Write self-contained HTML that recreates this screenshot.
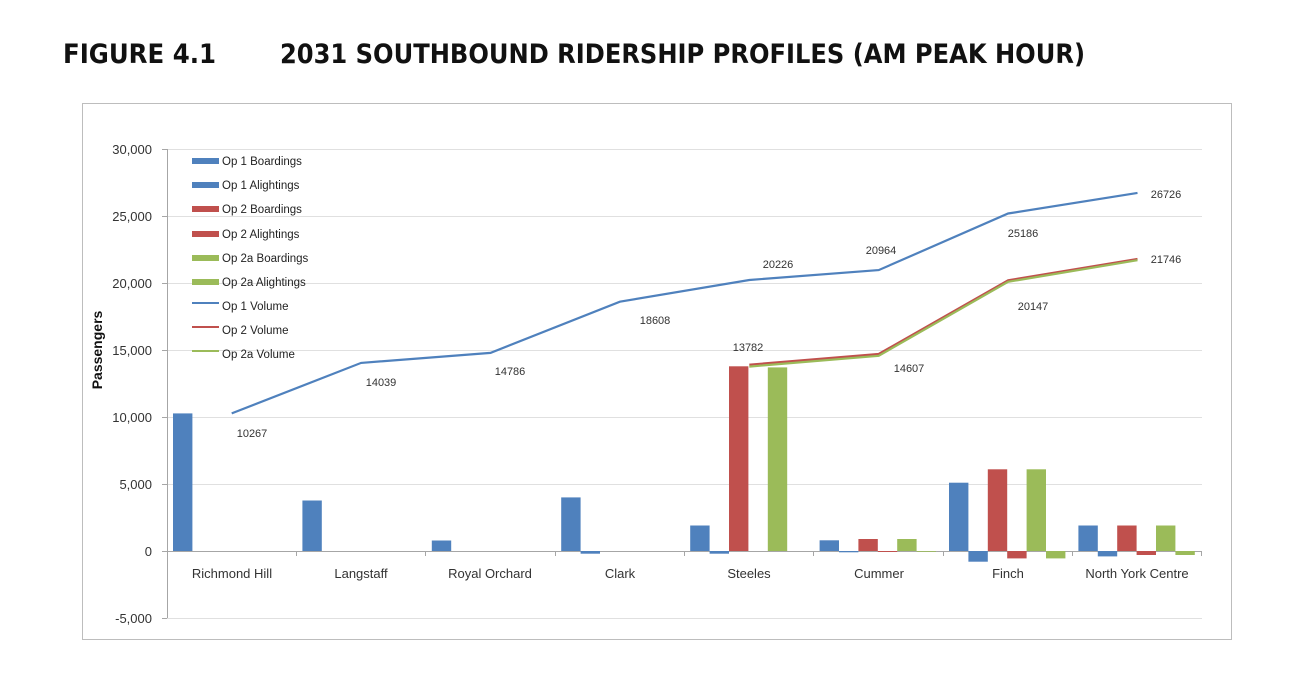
<!DOCTYPE html>
<html><head><meta charset="utf-8"><style>
body{margin:0;background:#fff;}
svg{display:block;font-family:"Liberation Sans",sans-serif;}
</style></head><body>
<svg width="1292" height="690" viewBox="0 0 1292 690">
<text x="63" y="63" font-size="27" font-weight="bold" fill="#111" font-family="DejaVu Sans, sans-serif" textLength="153" lengthAdjust="spacingAndGlyphs">FIGURE 4.1</text>
<text x="280" y="63" font-size="27" font-weight="bold" fill="#111" font-family="DejaVu Sans, sans-serif" textLength="805" lengthAdjust="spacingAndGlyphs">2031 SOUTHBOUND RIDERSHIP PROFILES (AM PEAK HOUR)</text>
<rect x="82.5" y="103.5" width="1149" height="536" fill="#fff" stroke="#bdbdbd"/>
<g stroke="#e0e0e0" stroke-width="1">
<line x1="167" y1="149.5" x2="1202" y2="149.5"/>
<line x1="167" y1="216.5" x2="1202" y2="216.5"/>
<line x1="167" y1="283.5" x2="1202" y2="283.5"/>
<line x1="167" y1="350.5" x2="1202" y2="350.5"/>
<line x1="167" y1="417.5" x2="1202" y2="417.5"/>
<line x1="167" y1="484.5" x2="1202" y2="484.5"/>
<line x1="167" y1="618.5" x2="1202" y2="618.5"/>
</g>
<g stroke="#a6a6a6" stroke-width="1">
<line x1="167.5" y1="149" x2="167.5" y2="618"/>
<line x1="162" y1="149.5" x2="167" y2="149.5"/>
<line x1="162" y1="216.5" x2="167" y2="216.5"/>
<line x1="162" y1="283.5" x2="167" y2="283.5"/>
<line x1="162" y1="350.5" x2="167" y2="350.5"/>
<line x1="162" y1="417.5" x2="167" y2="417.5"/>
<line x1="162" y1="484.5" x2="167" y2="484.5"/>
<line x1="162" y1="551.5" x2="167" y2="551.5"/>
<line x1="162" y1="618.5" x2="167" y2="618.5"/>
<line x1="167" y1="551.5" x2="1202" y2="551.5"/>
<line x1="296.5" y1="551" x2="296.5" y2="556"/>
<line x1="425.5" y1="551" x2="425.5" y2="556"/>
<line x1="555.5" y1="551" x2="555.5" y2="556"/>
<line x1="684.5" y1="551" x2="684.5" y2="556"/>
<line x1="813.5" y1="551" x2="813.5" y2="556"/>
<line x1="943.5" y1="551" x2="943.5" y2="556"/>
<line x1="1072.5" y1="551" x2="1072.5" y2="556"/>
<line x1="1201.5" y1="551" x2="1201.5" y2="556"/>
</g>
<g font-size="13" fill="#333" text-anchor="end">
<text x="152" y="154">30,000</text>
<text x="152" y="221">25,000</text>
<text x="152" y="288">20,000</text>
<text x="152" y="355">15,000</text>
<text x="152" y="422">10,000</text>
<text x="152" y="489">5,000</text>
<text x="152" y="556">0</text>
<text x="152" y="623">-5,000</text>
</g>
<text transform="translate(102,350) rotate(-90)" font-size="14" font-weight="bold" fill="#111" text-anchor="middle">Passengers</text>
<g font-size="13" fill="#333" text-anchor="middle">
<text x="232" y="578">Richmond Hill</text>
<text x="361" y="578">Langstaff</text>
<text x="490" y="578">Royal Orchard</text>
<text x="620" y="578">Clark</text>
<text x="749" y="578">Steeles</text>
<text x="879" y="578">Cummer</text>
<text x="1008" y="578">Finch</text>
<text x="1137" y="578">North York Centre</text>
</g>
<g fill="#4f81bd">
<rect x="173" y="413.4" width="19.4" height="137.6"/>
<rect x="302.4" y="500.5" width="19.4" height="50.5"/>
<rect x="431.8" y="540.5" width="19.4" height="10.5"/>
<rect x="561.2" y="497.4" width="19.4" height="53.6"/>
<rect x="580.6" y="551" width="19.4" height="2.7"/>
<rect x="690.2" y="525.5" width="19.4" height="25.5"/>
<rect x="709.6" y="551" width="19.4" height="2.7"/>
<rect x="819.6" y="540.3" width="19.4" height="10.7"/>
<rect x="839" y="551" width="19.4" height="1.3"/>
<rect x="949" y="482.7" width="19.4" height="68.3"/>
<rect x="968.4" y="551" width="19.4" height="10.7"/>
<rect x="1078.4" y="525.5" width="19.4" height="25.5"/>
<rect x="1097.8" y="551" width="19.4" height="5.4"/>
</g>
<g fill="#c0504d">
<rect x="729" y="366.3" width="19.4" height="184.7"/>
<rect x="858.4" y="539" width="19.4" height="12"/>
<rect x="877.8" y="551" width="19.4" height="1"/>
<rect x="987.8" y="469.3" width="19.4" height="81.7"/>
<rect x="1007.2" y="551" width="19.4" height="7.4"/>
<rect x="1117.2" y="525.5" width="19.4" height="25.5"/>
<rect x="1136.6" y="551" width="19.4" height="4"/>
</g>
<g fill="#9bbb59">
<rect x="767.8" y="367.4" width="19.4" height="183.6"/>
<rect x="897.2" y="539" width="19.4" height="12"/>
<rect x="916.6" y="551" width="19.4" height="0.8"/>
<rect x="1026.6" y="469.3" width="19.4" height="81.7"/>
<rect x="1046" y="551" width="19.4" height="7.4"/>
<rect x="1156" y="525.5" width="19.4" height="25.5"/>
<rect x="1175.4" y="551" width="19.4" height="4"/>
</g>
<polyline fill="none" stroke="#4f81bd" stroke-width="2.2" points="231.7,413.4 361.1,362.9 490.5,352.9 619.9,301.7 749.3,280 878.7,270.1 1008.1,213.5 1137.5,192.9"/>
<polyline fill="none" stroke="#c0504d" stroke-width="2.2" points="749.3,364.7 878.7,354 1008.1,280.3 1137.5,258.9"/>
<polyline fill="none" stroke="#9bbb59" stroke-width="2.2" points="749.3,366.6 878.7,355.8 1008.1,281.8 1137.5,260.2"/>
<g font-size="11" fill="#333" text-anchor="middle">
<text x="252" y="437">10267</text>
<text x="381" y="386">14039</text>
<text x="510" y="375">14786</text>
<text x="655" y="324">18608</text>
<text x="778" y="268">20226</text>
<text x="881" y="254">20964</text>
<text x="1023" y="237">25186</text>
<text x="1166" y="198">26726</text>
<text x="748" y="351">13782</text>
<text x="909" y="372">14607</text>
<text x="1033" y="310">20147</text>
<text x="1166" y="263">21746</text>
</g>
<g font-size="11.5" fill="#222">
<rect x="192" y="158" width="27" height="6" fill="#4f81bd"/><text x="222" y="165">Op 1 Boardings</text>
<rect x="192" y="182" width="27" height="6" fill="#4f81bd"/><text x="222" y="189">Op 1 Alightings</text>
<rect x="192" y="206" width="27" height="6" fill="#c0504d"/><text x="222" y="213">Op 2 Boardings</text>
<rect x="192" y="231" width="27" height="6" fill="#c0504d"/><text x="222" y="238">Op 2 Alightings</text>
<rect x="192" y="255" width="27" height="6" fill="#9bbb59"/><text x="222" y="262">Op 2a Boardings</text>
<rect x="192" y="279" width="27" height="6" fill="#9bbb59"/><text x="222" y="286">Op 2a Alightings</text>
<rect x="192" y="302" width="27" height="2" fill="#4f81bd"/><text x="222" y="310">Op 1 Volume</text>
<rect x="192" y="326" width="27" height="2" fill="#c0504d"/><text x="222" y="334">Op 2 Volume</text>
<rect x="192" y="350" width="27" height="2" fill="#9bbb59"/><text x="222" y="358">Op 2a Volume</text>
</g>
</svg>
</body></html>
